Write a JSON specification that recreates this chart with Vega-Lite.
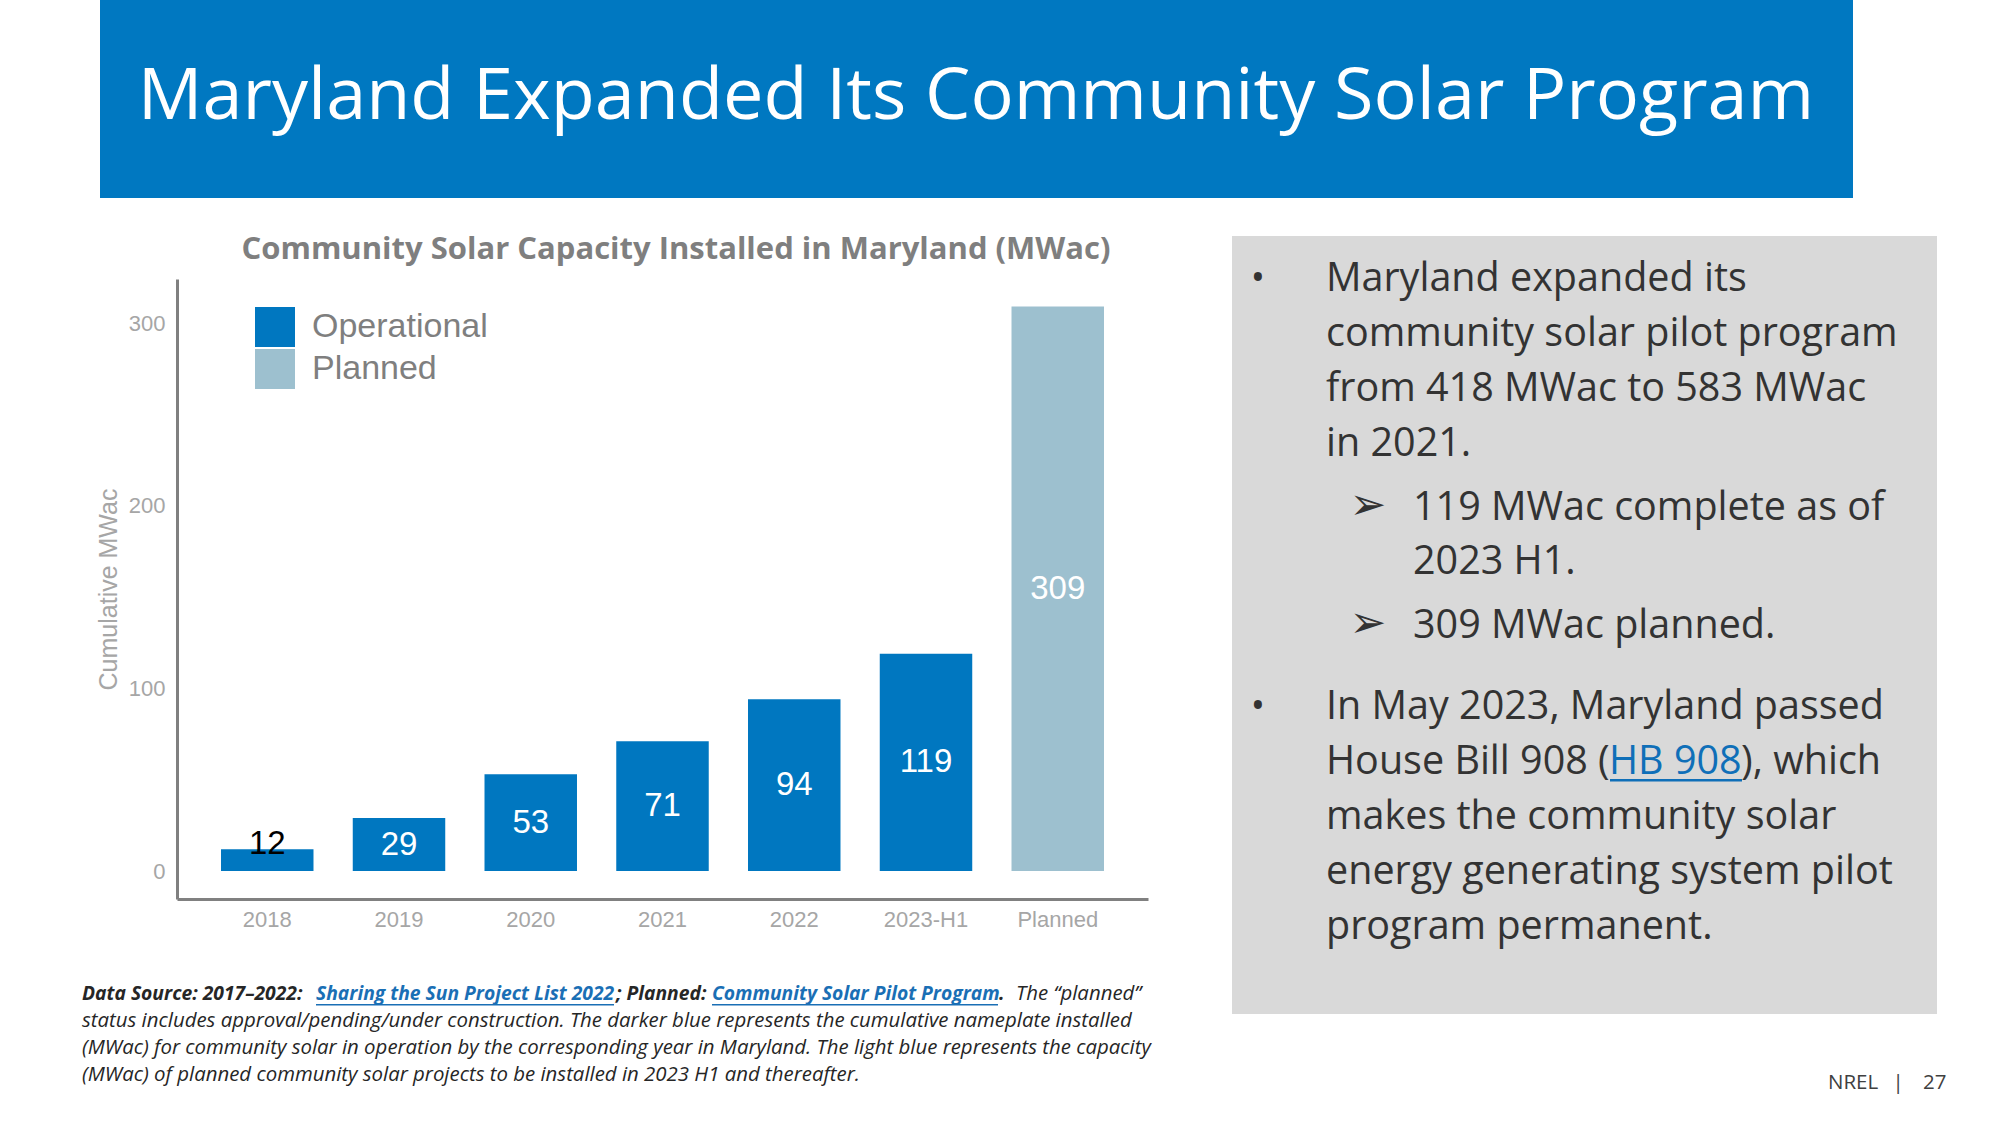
{
  "$schema": "https://vega.github.io/schema/vega-lite/v6.json",
  "width": 2000,
  "height": 1125,
  "autosize": {"type": "none"},
  "padding": 0,
  "background": "#ffffff",
  "config": {"view": {"stroke": null}},
  "data": {
    "values": [
      {"period": "2018", "value": 12, "status": "Operational"},
      {"period": "2019", "value": 29, "status": "Operational"},
      {"period": "2020", "value": 53, "status": "Operational"},
      {"period": "2021", "value": 71, "status": "Operational"},
      {"period": "2022", "value": 94, "status": "Operational"},
      {"period": "2023-H1", "value": 119, "status": "Operational"},
      {"period": "Planned", "value": 309, "status": "Planned"}
    ]
  },
  "layer": [
    {
      "data": {"values": [{}]},
      "mark": {"type": "rect", "x": 100, "x2": 1853, "y": 0, "y2": 198, "fill": "#0078c1"},
      "encoding": {}
    },
    {
      "data": {"values": [{}]},
      "mark": {"type": "rect", "x": 1232, "x2": 1937, "y": 236, "y2": 1014, "fill": "#d9d9d9"},
      "encoding": {}
    },
    {
      "data": {"values": [{}]},
      "mark": {"type": "text", "x": 976, "y": 119, "align": "center", "baseline": "alphabetic", "font": "Open Sans", "fontSize": 72, "fill": "#ffffff", "text": "Maryland Expanded Its Community Solar Program"},
      "encoding": {}
    },
    {
      "data": {"values": [{}]},
      "mark": {"type": "text", "x": 676, "y": 259, "align": "center", "baseline": "alphabetic", "font": "Open Sans", "fontWeight": "bold", "fontSize": 31, "fill": "#7f7f7f", "text": "Community Solar Capacity Installed in Maryland (MWac)"},
      "encoding": {}
    },
    {
      "mark": {"type": "bar"},
      "encoding": {
        "x": {
          "field": "period", "type": "nominal", "sort": null,
          "scale": {"range": [177, 1148], "paddingInner": 0.298, "paddingOuter": 0.334},
          "axis": {"title": null, "orient": "bottom", "offset": -226, "ticks": false, "labelPadding": 10, "labelFont": "Liberation Sans", "labelFontSize": 22, "labelColor": "#a6a6a6", "labelAngle": 0, "domainColor": "#808080", "domainWidth": 3, "grid": false}
        },
        "y": {
          "field": "value", "type": "quantitative",
          "scale": {"domain": [-15.3, 324.1], "range": [899, 279], "nice": false, "zero": false},
          "axis": {"orient": "left", "offset": -177, "values": [0, 100, 200, 300], "ticks": false, "labelPadding": 12, "labelFont": "Liberation Sans", "labelFontSize": 22, "labelColor": "#a6a6a6", "domainColor": "#808080", "domainWidth": 3, "grid": false, "title": "Cumulative MWac", "titleFont": "Liberation Sans", "titleFontSize": 25, "titleFontWeight": "normal", "titleColor": "#a6a6a6", "titleX": -69, "titleY": 589, "titleAngle": -90, "titleBaseline": "middle", "titleAlign": "center"}
        },
        "color": {
          "field": "status", "type": "nominal",
          "scale": {"domain": ["Operational", "Planned"], "range": ["#0077c0", "#9dc0cf"]},
          "legend": {"title": null, "orient": "none", "legendX": 255, "legendY": 307, "symbolType": "square", "symbolSize": 1600, "symbolStrokeWidth": 0, "symbolOpacity": 1, "labelFont": "Liberation Sans", "labelFontSize": 34, "labelColor": "#7f7f7f", "labelOffset": 17, "labelLimit": 500, "rowPadding": 2, "padding": 0}
        }
      }
    },
    {
      "transform": [{"calculate": "datum.value < 20 ? datum.value + 3 : datum.value / 2", "as": "labelY"}],
      "mark": {"type": "text", "font": "Liberation Sans", "fontSize": 33, "baseline": "middle", "align": "center"},
      "encoding": {
        "x": {"field": "period", "type": "nominal", "sort": null},
        "y": {
          "field": "labelY", "type": "quantitative",
          "axis": {"orient": "left", "offset": -177, "values": [0, 100, 200, 300], "ticks": false, "labelPadding": 12, "labelFont": "Liberation Sans", "labelFontSize": 22, "labelColor": "#a6a6a6", "domainColor": "#808080", "domainWidth": 3, "grid": false, "title": "Cumulative MWac", "titleFont": "Liberation Sans", "titleFontSize": 25, "titleFontWeight": "normal", "titleColor": "#a6a6a6", "titleX": -69, "titleY": 589, "titleAngle": -90, "titleBaseline": "middle", "titleAlign": "center"}
        },
        "text": {"field": "value", "type": "quantitative"},
        "color": {"condition": {"test": "datum.value < 20", "value": "#000000"}, "value": "#ffffff"}
      }
    },
    {
      "data": {"values": [{}]},
      "mark": {"type": "text", "x": 1258, "y": 291, "align": "center", "baseline": "alphabetic", "font": "Open Sans", "fontSize": 38, "fill": "#333333", "text": "•"},
      "encoding": {}
    },
    {
      "data": {"values": [{}]},
      "mark": {"type": "text", "x": 1258, "y": 719, "align": "center", "baseline": "alphabetic", "font": "Open Sans", "fontSize": 38, "fill": "#333333", "text": "•"},
      "encoding": {}
    },
    {
      "data": {"values": [{}]},
      "mark": {"type": "text", "x": 1368, "y": 519, "align": "center", "baseline": "alphabetic", "font": "DejaVu Sans", "fontSize": 44, "fill": "#333333", "text": "➢"},
      "encoding": {}
    },
    {
      "data": {"values": [{}]},
      "mark": {"type": "text", "x": 1368, "y": 637, "align": "center", "baseline": "alphabetic", "font": "DejaVu Sans", "fontSize": 44, "fill": "#333333", "text": "➢"},
      "encoding": {}
    },
    {
      "data": {"values": [{}]},
      "mark": {"type": "text", "x": 1326, "y": 291, "align": "left", "baseline": "alphabetic", "font": "Open Sans", "fontSize": 39.5, "lineHeight": 55, "fill": "#333333", "text": ["Maryland expanded its", "community solar pilot program", "from 418 MWac to 583 MWac", "in 2021."]},
      "encoding": {}
    },
    {
      "data": {"values": [{}]},
      "mark": {"type": "text", "x": 1413, "y": 520, "align": "left", "baseline": "alphabetic", "font": "Open Sans", "fontSize": 39.5, "lineHeight": 54, "fill": "#333333", "text": ["119 MWac complete as of", "2023 H1."]},
      "encoding": {}
    },
    {
      "data": {"values": [{}]},
      "mark": {"type": "text", "x": 1413, "y": 638, "align": "left", "baseline": "alphabetic", "font": "Open Sans", "fontSize": 39.5, "fill": "#333333", "text": "309 MWac planned."},
      "encoding": {}
    },
    {
      "data": {"values": [{}]},
      "mark": {"type": "text", "x": 1326, "y": 719, "align": "left", "baseline": "alphabetic", "font": "Open Sans", "fontSize": 39.5, "fill": "#333333", "text": "In May 2023, Maryland passed"},
      "encoding": {}
    },
    {
      "data": {"values": [{}]},
      "mark": {"type": "text", "x": 1326, "y": 774, "align": "left", "baseline": "alphabetic", "font": "Open Sans", "fontSize": 39.5, "fill": "#333333", "text": "House Bill 908 ("},
      "encoding": {}
    },
    {
      "data": {"values": [{}]},
      "mark": {"type": "text", "x": 1609, "y": 774, "align": "left", "baseline": "alphabetic", "font": "Open Sans", "fontSize": 39.5, "fill": "#0f6fb8", "text": "HB 908"},
      "encoding": {}
    },
    {
      "data": {"values": [{}]},
      "mark": {"type": "rect", "x": 1610, "x2": 1742, "y": 779, "y2": 781.5, "fill": "#0f6fb8"},
      "encoding": {}
    },
    {
      "data": {"values": [{}]},
      "mark": {"type": "text", "x": 1741, "y": 774, "align": "left", "baseline": "alphabetic", "font": "Open Sans", "fontSize": 39.5, "fill": "#333333", "text": "), which"},
      "encoding": {}
    },
    {
      "data": {"values": [{}]},
      "mark": {"type": "text", "x": 1326, "y": 829, "align": "left", "baseline": "alphabetic", "font": "Open Sans", "fontSize": 39.5, "lineHeight": 55, "fill": "#333333", "text": ["makes the community solar", "energy generating system pilot", "program permanent."]},
      "encoding": {}
    },
    {
      "data": {"values": [{}]},
      "mark": {"type": "text", "x": 82, "y": 1000, "align": "left", "baseline": "alphabetic", "font": "Open Sans", "fontSize": 19.3, "fontStyle": "italic", "fontWeight": "bold", "fill": "#262626", "text": "Data Source: 2017–2022:"},
      "encoding": {}
    },
    {
      "data": {"values": [{}]},
      "mark": {"type": "text", "x": 316, "y": 1000, "align": "left", "baseline": "alphabetic", "font": "Open Sans", "fontSize": 19.3, "fontStyle": "italic", "fontWeight": "bold", "fill": "#1a6fb5", "text": "Sharing the Sun Project List 2022"},
      "encoding": {}
    },
    {
      "data": {"values": [{}]},
      "mark": {"type": "rect", "x": 316, "x2": 614, "y": 1004, "y2": 1005.5, "fill": "#1a6fb5"},
      "encoding": {}
    },
    {
      "data": {"values": [{}]},
      "mark": {"type": "text", "x": 616, "y": 1000, "align": "left", "baseline": "alphabetic", "font": "Open Sans", "fontSize": 19.3, "fontStyle": "italic", "fontWeight": "bold", "fill": "#262626", "text": "; Planned:"},
      "encoding": {}
    },
    {
      "data": {"values": [{}]},
      "mark": {"type": "text", "x": 712, "y": 1000, "align": "left", "baseline": "alphabetic", "font": "Open Sans", "fontSize": 19.3, "fontStyle": "italic", "fontWeight": "bold", "fill": "#1a6fb5", "text": "Community Solar Pilot Program"},
      "encoding": {}
    },
    {
      "data": {"values": [{}]},
      "mark": {"type": "rect", "x": 712, "x2": 998, "y": 1004, "y2": 1005.5, "fill": "#1a6fb5"},
      "encoding": {}
    },
    {
      "data": {"values": [{}]},
      "mark": {"type": "text", "x": 999, "y": 1000, "align": "left", "baseline": "alphabetic", "font": "Open Sans", "fontSize": 19.3, "fontStyle": "italic", "fontWeight": "bold", "fill": "#262626", "text": "."},
      "encoding": {}
    },
    {
      "data": {"values": [{}]},
      "mark": {"type": "text", "x": 1016, "y": 1000, "align": "left", "baseline": "alphabetic", "font": "Open Sans", "fontSize": 20.4, "fontStyle": "italic", "fill": "#262626", "text": "The “planned”"},
      "encoding": {}
    },
    {
      "data": {"values": [{}]},
      "mark": {"type": "text", "x": 82, "y": 1027, "align": "left", "baseline": "alphabetic", "font": "Open Sans", "fontSize": 20.4, "fontStyle": "italic", "lineHeight": 26.8, "fill": "#262626", "text": ["status includes approval/pending/under construction. The darker blue represents the cumulative nameplate installed", "(MWac) for community solar in operation by the corresponding year in Maryland. The light blue represents the  capacity", "(MWac) of planned community solar projects to be installed in 2023 H1 and thereafter."]},
      "encoding": {}
    },
    {
      "data": {"values": [{}]},
      "mark": {"type": "text", "x": 1828, "y": 1089, "align": "left", "baseline": "alphabetic", "font": "Open Sans", "fontSize": 20.5, "fill": "#404040", "text": "NREL"},
      "encoding": {}
    },
    {
      "data": {"values": [{}]},
      "mark": {"type": "text", "x": 1898, "y": 1089, "align": "center", "baseline": "alphabetic", "font": "Open Sans", "fontSize": 20.5, "fill": "#404040", "text": "|"},
      "encoding": {}
    },
    {
      "data": {"values": [{}]},
      "mark": {"type": "text", "x": 1923, "y": 1089, "align": "left", "baseline": "alphabetic", "font": "Open Sans", "fontSize": 20.5, "fill": "#404040", "text": "27"},
      "encoding": {}
    }
  ]
}
